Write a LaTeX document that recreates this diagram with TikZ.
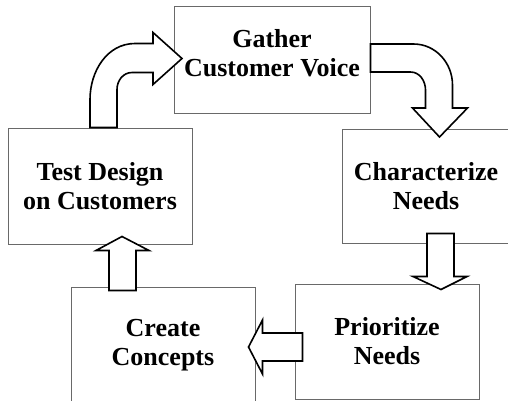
\documentclass[tikz,border=0pt]{standalone}
\usepackage{fontspec}
\setmainfont{Liberation Serif}
\usepackage{tikz}
\usetikzlibrary{calc}
\definecolor{boxgray}{RGB}{105,105,105}
\tikzset{
  stage/.style={draw=boxgray,line width=1pt,minimum width=184pt,minimum height=116pt,
    align=center,inner sep=0pt,font=\bfseries\fontsize{26}{29}\selectfont},
  blockarrow/.style={draw=black,fill=white,line width=1.6pt,line join=miter}
}

\begin{document}
\begin{tikzpicture}[x=1pt,y=1pt]
\useasboundingbox (0,0) rectangle (508,400);
\clip (0,0) rectangle (508,400);
\fill[white] (0,0) rectangle (508,400);
\node[stage,minimum width=196pt,minimum height=106pt,text depth=14pt] (gather) at (272,340) {Gather\\Customer Voice};
\node[stage] (test) at (100,214) {Test Design\\on Customers};
\node[stage,minimum width=168pt,minimum height=114pt] (charz) at (426,214) {Characterize\\Needs};
\node[stage,minimum height=115pt] (prior) at (387,58.5) {Prioritize\\Needs};
\node[stage] (create) at (163,55) {Create\\Concepts};
\draw[blockarrow] ($(test.north)+(-10,0)$) -- ++(0,28) to[out=90,in=180] ++(45,56) -- ++(18,0) -- ++(0,11) -- ++(29,-26) -- ++(-29,-26) -- ++(0,12) -- ++(-21,0) to[out=180,in=90] ++(-15,-17) -- ++(0,-38) -- cycle;
\draw[blockarrow] ($(gather.east)+(0,16)$) -- ++(43,0) to[out=0,in=90] ++(39,-41) -- ++(0,-23) -- ++(15,0) -- ++(-28,-29) -- ++(-27,29) -- ++(13,0) -- ++(0,18) to[out=90,in=0] ++(-15,18) -- ++(-40,0) -- cycle;
\draw[blockarrow] ($(charz.south)+(1,10)$) -- ++(0,-43) -- ++(-14,0) -- ++(28,-13) -- ++(26,13) -- ++(-13,0) -- ++(0,43) -- cycle;
\draw[blockarrow] ($(prior.west)+(8,8.5)$) -- ++(-40,0) -- ++(0,13) -- ++(-14,-27) -- ++(14,-27) -- ++(0,13) -- ++(40,0) -- cycle;
\draw[blockarrow] ($(create.north)+(-54,-4)$) -- ++(0,40) -- ++(-13,0) -- ++(26,14) -- ++(27,-14) -- ++(-13,0) -- ++(0,-40) -- cycle;
\end{tikzpicture}
\end{document}
